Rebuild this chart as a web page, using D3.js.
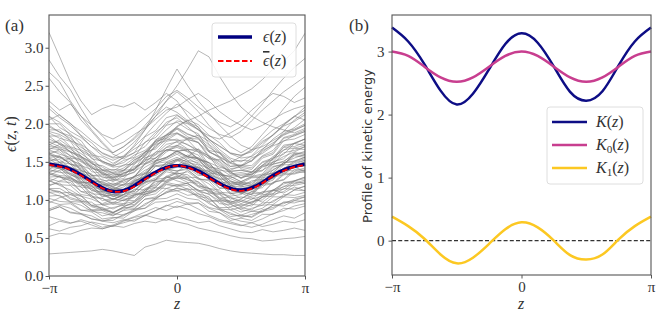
<!doctype html>
<html>
<head>
<meta charset="UTF-8">
<title>Energy profiles</title>
<script src="https://d3js.org/d3.v7.min.js"></script>
<style>
  body { margin: 0; background: #fff; }
  text { font-family: "Liberation Serif", serif; fill: #333; }
</style>
</head>
<body>
<div id="chart"></div>
<script>
// ---- data ----
// smooth profiles, sampled every pi/8 from -pi to pi
var epsMean = [1.47, 1.43, 1.33, 1.20, 1.11, 1.15, 1.28, 1.40, 1.45, 1.41, 1.30, 1.18, 1.13, 1.19, 1.32, 1.42, 1.47];
var epsBar  = [1.46, 1.42, 1.32, 1.19, 1.11, 1.14, 1.27, 1.39, 1.45, 1.40, 1.29, 1.17, 1.12, 1.18, 1.31, 1.41, 1.46];
var kTotal  = [3.38, 3.16, 2.80, 2.38, 2.16, 2.33, 2.72, 3.12, 3.29, 3.14, 2.76, 2.36, 2.22, 2.37, 2.78, 3.16, 3.38];
var kZero   = [3.00, 2.93, 2.76, 2.59, 2.52, 2.59, 2.76, 2.93, 3.00, 2.93, 2.76, 2.59, 2.52, 2.59, 2.76, 2.93, 3.00];
var kOne    = [0.38, 0.23, 0.03, -0.22, -0.36, -0.27, -0.05, 0.18, 0.29, 0.21, 0.00, -0.23, -0.30, -0.22, 0.02, 0.23, 0.38];

// individual realisations eps(z,t), sampled every pi/12
var lowRuns = [
  "0.29 0.30 0.31 0.32 0.33 0.35 0.33 0.30 0.27 0.38 0.42 0.47 0.45 0.44 0.43 0.40 0.36 0.33 0.31 0.30 0.29 0.28 0.28 0.27 0.27",
  "0.52 0.56 0.55 0.60 0.63 0.62 0.66 0.64 0.69 0.72 0.70 0.75 0.71 0.68 0.63 0.60 0.57 0.53 0.50 0.49 0.46 0.47 0.49 0.50 0.52",
  "0.62 0.59 0.64 0.66 0.71 0.68 0.65 0.72 0.77 0.80 0.76 0.73 0.78 0.74 0.70 0.72 0.66 0.62 0.58 0.57 0.61 0.58 0.60 0.63 0.60",
  "0.66 0.72 0.69 0.74 0.70 0.64 0.67 0.73 0.78 0.84 0.90 0.86 0.92 0.88 0.82 0.78 0.72 0.69 0.66 0.70 0.65 0.68 0.72 0.70 0.74",
  "0.78 0.74 0.70 0.72 0.67 0.62 0.66 0.70 0.74 0.79 0.86 0.93 0.90 0.95 0.88 0.80 0.74 0.71 0.67 0.64 0.68 0.74 0.79 0.76 0.83",
  "0.88 0.93 0.89 0.82 0.79 0.72 0.70 0.74 0.72 0.80 0.86 0.92 0.98 0.94 0.96 0.89 0.83 0.76 0.72 0.70 0.75 0.82 0.86 0.92 0.95",
  "0.86 0.91 0.84 0.82 0.75 0.72 0.76 0.79 0.87 0.93 1.03 1.09 1.16 1.11 1.05 0.95 0.89 0.81 0.79 0.78 0.87 0.90 0.97 0.99 1.04"
];
var midRuns = [
  "1.02 0.98 0.97 0.87 0.84 0.75 0.77 0.76 0.86 0.89 1.01 1.02 1.08 1.02 1.00 0.90 0.87 0.78 0.80 0.77 0.85 0.88 0.97 0.96 1.00",
  "1.10 1.11 1.01 0.98 0.86 0.86 0.80 0.86 0.88 1.01 1.04 1.15 1.12 1.15 1.05 1.02 0.90 0.90 0.84 0.89 0.93 0.94 1.04 1.03 1.06",
  "1.14 1.09 1.10 0.98 0.97 0.87 0.90 0.93 0.94 1.08 1.11 1.23 1.20 1.22 1.11 1.08 0.95 0.94 0.88 0.94 0.93 1.04 1.04 1.13 1.12",
  "1.20 1.22 1.09 1.06 0.92 0.90 0.84 0.90 0.89 1.01 1.02 1.10 1.12 1.06 1.08 0.98 0.99 0.91 0.94 0.92 1.04 1.08 1.23 1.25 1.30",
  "1.25 1.20 1.19 1.07 1.05 0.94 0.97 0.95 1.07 1.10 1.24 1.26 1.32 1.26 1.24 1.11 1.08 0.97 1.00 0.96 1.07 1.08 1.18 1.19 1.22",
  "1.30 1.31 1.20 1.17 1.03 1.02 0.96 1.04 1.06 1.22 1.27 1.40 1.38 1.40 1.28 1.25 1.10 1.09 1.02 1.08 1.09 1.23 1.26 1.37 1.36",
  "1.34 1.30 1.29 1.17 1.15 1.04 1.07 1.03 1.14 1.13 1.25 1.24 1.30 1.23 1.22 1.09 1.07 0.95 0.98 0.95 1.04 1.05 1.15 1.14 1.18",
  "1.38 1.38 1.27 1.22 1.08 1.07 1.00 1.07 1.11 1.27 1.33 1.46 1.44 1.45 1.34 1.30 1.16 1.15 1.08 1.14 1.16 1.30 1.33 1.44 1.44",
  "1.40 1.36 1.35 1.23 1.22 1.11 1.14 1.12 1.25 1.29 1.45 1.47 1.54 1.46 1.43 1.27 1.22 1.08 1.10 1.07 1.21 1.26 1.42 1.45 1.50",
  "1.42 1.42 1.29 1.22 1.05 1.02 0.94 1.00 0.99 1.11 1.12 1.21 1.18 1.22 1.12 1.13 1.02 1.04 0.98 1.05 1.08 1.23 1.27 1.40 1.38",
  "1.45 1.41 1.38 1.24 1.22 1.10 1.12 1.10 1.25 1.31 1.49 1.53 1.60 1.52 1.49 1.33 1.28 1.14 1.16 1.13 1.25 1.28 1.42 1.43 1.48",
  "1.48 1.49 1.38 1.35 1.21 1.20 1.14 1.20 1.19 1.31 1.32 1.41 1.38 1.42 1.32 1.33 1.22 1.24 1.18 1.25 1.27 1.43 1.47 1.60 1.58",
  "1.50 1.44 1.41 1.24 1.19 1.05 1.07 1.07 1.22 1.31 1.51 1.56 1.64 1.57 1.54 1.39 1.35 1.22 1.24 1.21 1.33 1.35 1.49 1.50 1.54",
  "1.52 1.53 1.42 1.39 1.25 1.24 1.18 1.26 1.30 1.48 1.55 1.69 1.71 1.64 1.59 1.40 1.32 1.17 1.18 1.16 1.26 1.29 1.41 1.42 1.46",
  "1.55 1.50 1.47 1.32 1.27 1.14 1.16 1.14 1.26 1.30 1.44 1.46 1.52 1.45 1.42 1.26 1.21 1.08 1.11 1.07 1.19 1.21 1.33 1.34 1.38",
  "1.58 1.58 1.47 1.43 1.28 1.27 1.20 1.27 1.30 1.47 1.52 1.66 1.64 1.66 1.53 1.49 1.33 1.31 1.24 1.30 1.32 1.47 1.50 1.62 1.60",
  "1.60 1.55 1.50 1.33 1.27 1.12 1.14 1.12 1.23 1.26 1.38 1.40 1.46 1.41 1.43 1.34 1.36 1.29 1.32 1.30 1.44 1.47 1.62 1.65 1.70",
  "1.63 1.63 1.52 1.47 1.32 1.31 1.24 1.32 1.36 1.55 1.62 1.77 1.80 1.72 1.66 1.46 1.38 1.21 1.23 1.20 1.31 1.36 1.49 1.51 1.56",
  "1.66 1.60 1.56 1.39 1.33 1.18 1.20 1.19 1.31 1.36 1.52 1.55 1.62 1.56 1.55 1.43 1.41 1.32 1.34 1.33 1.46 1.53 1.70 1.74 1.80",
  "1.70 1.69 1.58 1.53 1.37 1.35 1.28 1.36 1.39 1.55 1.60 1.73 1.76 1.67 1.63 1.43 1.35 1.19 1.21 1.18 1.29 1.32 1.46 1.47 1.52",
  "1.73 1.67 1.63 1.45 1.40 1.25 1.26 1.28 1.42 1.51 1.73 1.78 1.87 1.79 1.76 1.58 1.51 1.37 1.39 1.36 1.49 1.53 1.69 1.70 1.76",
  "1.76 1.76 1.63 1.58 1.41 1.39 1.32 1.39 1.40 1.53 1.55 1.66 1.64 1.66 1.53 1.49 1.33 1.31 1.24 1.31 1.34 1.50 1.54 1.68 1.66",
  "1.80 1.74 1.69 1.51 1.44 1.29 1.30 1.31 1.47 1.57 1.79 1.85 1.94 1.86 1.82 1.63 1.56 1.41 1.43 1.40 1.55 1.60 1.78 1.80 1.86",
  "1.84 1.84 1.70 1.65 1.47 1.45 1.38 1.46 1.47 1.63 1.67 1.80 1.78 1.79 1.64 1.58 1.39 1.37 1.28 1.35 1.38 1.55 1.60 1.74 1.72",
  "1.88 1.81 1.77 1.57 1.50 1.33 1.34 1.33 1.44 1.48 1.63 1.65 1.72 1.66 1.66 1.54 1.53 1.44 1.46 1.45 1.58 1.65 1.82 1.86 1.92",
  "1.92 1.92 1.78 1.72 1.54 1.51 1.44 1.52 1.56 1.76 1.82 1.98 2.02 1.93 1.87 1.64 1.55 1.38 1.39 1.36 1.50 1.55 1.72 1.74 1.80",
  "1.96 1.89 1.84 1.64 1.56 1.39 1.40 1.39 1.53 1.59 1.77 1.81 1.88 1.81 1.80 1.65 1.62 1.50 1.52 1.51 1.65 1.72 1.90 1.93 2.00",
  "2.00 2.00 1.85 1.78 1.59 1.56 1.48 1.56 1.62 1.83 1.91 2.08 2.12 2.02 1.96 1.73 1.62 1.44 1.45 1.42 1.57 1.62 1.81 1.84 1.90",
  "1.35 1.30 1.26 1.11 1.06 0.93 0.95 0.93 1.06 1.10 1.27 1.29 1.36 1.30 1.29 1.15 1.13 1.01 1.04 1.01 1.11 1.12 1.23 1.22 1.26",
  "1.15 1.15 1.07 1.05 0.93 0.94 0.88 0.95 0.98 1.13 1.17 1.30 1.28 1.29 1.18 1.15 1.00 0.99 0.92 0.98 1.00 1.12 1.14 1.24 1.22",
  "1.28 1.24 1.23 1.11 1.10 0.99 1.02 0.99 1.08 1.07 1.16 1.15 1.20 1.14 1.13 1.00 0.98 0.87 0.90 0.87 0.96 0.97 1.07 1.06 1.10",
  "1.44 1.44 1.33 1.28 1.12 1.11 1.04 1.10 1.11 1.24 1.26 1.37 1.34 1.37 1.27 1.27 1.15 1.16 1.10 1.18 1.22 1.40 1.46 1.61 1.62",
  "1.62 1.56 1.54 1.38 1.34 1.20 1.22 1.20 1.31 1.34 1.48 1.50 1.56 1.49 1.46 1.29 1.24 1.10 1.13 1.09 1.21 1.22 1.35 1.35 1.40",
  "1.05 1.06 0.98 0.97 0.87 0.88 0.83 0.89 0.92 1.05 1.08 1.20 1.18 1.19 1.08 1.04 0.88 0.87 0.80 0.85 0.84 0.93 0.92 0.99 0.98",
  "1.36 1.32 1.31 1.19 1.18 1.07 1.10 1.10 1.24 1.32 1.51 1.56 1.64 1.57 1.54 1.37 1.32 1.19 1.21 1.18 1.27 1.28 1.39 1.38 1.42",
  "1.68 1.66 1.53 1.45 1.26 1.22 1.14 1.21 1.22 1.35 1.37 1.49 1.46 1.48 1.39 1.38 1.27 1.28 1.22 1.29 1.30 1.44 1.47 1.58 1.56",
  "0.98 0.94 0.95 0.86 0.87 0.79 0.82 0.80 0.88 0.89 0.97 0.98 1.02 0.96 0.96 0.85 0.83 0.73 0.76 0.73 0.81 0.81 0.89 0.88 0.92",
  "1.56 1.57 1.47 1.45 1.32 1.33 1.26 1.35 1.40 1.60 1.69 1.85 1.88 1.80 1.75 1.56 1.50 1.34 1.36 1.33 1.45 1.50 1.66 1.68 1.72"
];
var driftRuns = [
  "1.18 1.25 1.29 1.23 1.15 1.09 1.01 0.99 1.05 1.15 1.19 1.31 1.37 1.47 1.39 1.33 1.21 1.17 1.09 1.03 0.97 1.07 1.11 1.21 1.24",
  "1.62 1.49 1.43 1.35 1.31 1.21 1.17 1.11 1.19 1.25 1.35 1.43 1.51 1.57 1.67 1.57 1.47 1.35 1.29 1.33 1.43 1.49 1.57 1.63 1.70",
  "1.40 1.49 1.55 1.53 1.43 1.35 1.27 1.23 1.29 1.39 1.45 1.41 1.33 1.29 1.19 1.15 1.09 1.05 1.07 1.17 1.23 1.31 1.35 1.43 1.38",
  "0.96 1.03 1.07 1.01 0.93 0.89 0.83 0.91 0.97 1.07 1.13 1.23 1.29 1.39 1.29 1.21 1.09 1.03 0.95 1.01 1.05 1.13 1.09 1.17 1.12",
  "1.72 1.79 1.69 1.61 1.51 1.43 1.35 1.31 1.37 1.47 1.55 1.65 1.69 1.63 1.55 1.49 1.43 1.39 1.45 1.55 1.61 1.71 1.77 1.85 1.90",
  "1.26 1.19 1.13 1.05 1.01 0.95 1.01 1.07 1.17 1.23 1.35 1.43 1.53 1.59 1.55 1.45 1.37 1.25 1.19 1.11 1.09 1.13 1.21 1.25 1.30",
  "1.50 1.57 1.47 1.41 1.29 1.23 1.17 1.25 1.31 1.43 1.51 1.63 1.71 1.81 1.85 1.77 1.63 1.53 1.41 1.37 1.39 1.47 1.51 1.59 1.64",
  "2.10 1.95 1.87 1.73 1.63 1.51 1.45 1.49 1.59 1.65 1.77 1.85 1.95 1.87 1.81 1.69 1.61 1.49 1.45 1.51 1.63 1.73 1.87 1.95 2.06",
  "1.32 1.39 1.43 1.37 1.25 1.15 1.05 1.01 1.03 1.13 1.21 1.31 1.25 1.21 1.13 1.07 0.99 0.97 1.01 1.11 1.19 1.31 1.37 1.45 1.50",
  "1.84 1.73 1.67 1.57 1.49 1.39 1.35 1.39 1.49 1.57 1.71 1.81 1.97 2.05 1.99 1.85 1.75 1.61 1.55 1.57 1.67 1.75 1.85 1.91 1.98",
  "1.10 1.05 0.97 0.93 0.85 0.83 0.79 0.87 0.93 1.05 1.13 1.25 1.31 1.27 1.17 1.11 1.01 0.95 0.87 0.85 0.89 0.99 1.05 1.13 1.18",
  "1.46 1.41 1.33 1.27 1.17 1.13 1.07 1.05 1.09 1.19 1.27 1.39 1.45 1.55 1.47 1.41 1.29 1.21 1.11 1.17 1.23 1.35 1.41 1.49 1.52",
  "1.66 1.73 1.63 1.55 1.45 1.37 1.29 1.35 1.41 1.51 1.59 1.69 1.77 1.73 1.63 1.55 1.45 1.37 1.29 1.37 1.45 1.57 1.65 1.75 1.80",
  "0.86 0.91 0.83 0.81 0.75 0.73 0.73 0.81 0.85 0.95 1.01 1.11 1.15 1.13 1.03 0.97 0.87 0.83 0.77 0.81 0.85 0.93 0.95 1.01 1.04",
  "1.24 1.31 1.25 1.21 1.13 1.07 1.01 1.07 1.13 1.23 1.29 1.39 1.43 1.51 1.43 1.37 1.25 1.19 1.13 1.19 1.25 1.35 1.41 1.51 1.56",
  "1.98 1.89 1.81 1.69 1.61 1.49 1.43 1.45 1.55 1.63 1.75 1.83 1.93 1.83 1.75 1.63 1.57 1.49 1.57 1.65 1.77 1.85 1.97 2.03 2.12",
  "1.54 1.45 1.39 1.29 1.23 1.15 1.13 1.17 1.27 1.35 1.47 1.55 1.65 1.57 1.51 1.41 1.35 1.25 1.21 1.23 1.33 1.39 1.49 1.55 1.60",
  "1.36 1.43 1.35 1.29 1.19 1.13 1.05 1.11 1.17 1.29 1.37 1.49 1.53 1.51 1.41 1.35 1.23 1.17 1.09 1.15 1.21 1.31 1.37 1.45 1.48",
  "2.24 2.11 2.01 1.85 1.75 1.61 1.55 1.57 1.67 1.75 1.89 1.99 2.11 2.01 1.93 1.79 1.71 1.61 1.59 1.63 1.75 1.85 1.99 2.09 2.22",
  "1.14 1.11 1.03 0.99 0.91 0.87 0.83 0.91 0.97 1.09 1.17 1.29 1.35 1.33 1.23 1.15 1.03 0.97 0.91 0.97 1.03 1.13 1.17 1.25 1.28"
];
var highRuns = [
  "3.20 2.88 2.55 2.30 2.12 2.20 2.25 2.22 2.28 2.18 2.28 2.40 2.30 2.10 1.95 1.80 1.70 1.62 1.58 1.66 1.80 1.92 2.00 2.10 2.05",
  "2.84 2.62 2.45 2.20 1.98 1.84 1.70 1.76 1.86 1.95 2.10 2.22 2.15 2.04 1.92 1.80 1.66 1.55 1.50 1.58 1.72 1.86 1.98 2.10 2.18",
  "2.68 2.55 2.30 2.10 1.92 1.76 1.62 1.70 1.82 1.98 2.14 2.30 2.42 2.30 2.16 1.98 1.84 1.70 1.62 1.70 1.86 2.02 2.20 2.36 2.48",
  "2.60 2.42 2.28 2.05 1.90 1.74 1.60 1.54 1.62 1.70 1.86 2.02 2.08 1.96 1.84 1.72 1.56 1.48 1.44 1.52 1.66 1.80 1.90 2.05 2.15",
  "2.10 2.02 1.90 1.82 1.70 1.62 1.56 1.64 1.76 1.92 2.10 2.30 2.50 2.72 2.96 2.88 2.62 2.40 2.22 2.10 2.02 1.96 1.92 1.88 1.94",
  "1.90 1.86 1.78 1.66 1.58 1.50 1.46 1.56 1.72 1.92 2.18 2.46 2.72 2.50 2.30 2.14 1.98 1.84 1.72 1.66 1.70 1.78 1.86 1.92 1.98",
  "1.76 1.70 1.64 1.56 1.48 1.40 1.36 1.42 1.52 1.62 1.74 1.86 1.96 2.04 2.10 2.18 2.24 2.30 2.38 2.46 2.58 2.72 2.82 2.96 3.19",
  "1.60 1.66 1.58 1.50 1.42 1.36 1.30 1.38 1.50 1.62 1.78 1.92 2.04 2.00 1.92 1.84 1.80 1.88 1.96 2.10 2.26 2.44 2.60 2.74 2.86",
  "2.20 2.08 1.98 1.84 1.70 1.58 1.52 1.58 1.70 1.84 2.00 2.14 2.26 2.16 2.04 1.94 1.86 1.82 1.90 2.04 2.18 2.30 2.42 2.52 2.62",
  "2.30 2.18 2.26 2.10 1.98 1.86 1.80 1.88 1.96 2.08 2.20 2.36 2.44 2.34 2.22 2.12 2.02 1.96 2.04 2.18 2.30 2.40 2.36 2.28 2.34",
  "2.05 2.12 2.00 1.90 1.78 1.68 1.62 1.70 1.80 1.94 2.06 2.18 2.22 2.32 2.40 2.30 2.16 2.06 1.98 1.92 1.98 2.06 2.14 2.20 2.24"
];

var epsTicks = [0, 0.5, 1.0, 1.5, 2.0, 2.5, 3.0];
var kTicks = [0, 1, 2, 3];
var zTicks = [-Math.PI, 0, Math.PI];
var zTickLabels = ["\u2212\u03c0", "0", "\u03c0"];

// z grids for the two sampling rates
var zCoarse = d3.range(-8, 9).map(function(k){ return k * Math.PI / 8; });
var zFine = d3.range(-12, 13).map(function(k){ return k * Math.PI / 12; });

var runs = lowRuns.concat(midRuns, driftRuns, highRuns).map(function(s){
  return s.split(" ").map(Number);
});

var svg = d3.select("#chart").append("svg")
  .attr("width", 665).attr("height", 321);

// shared helpers
function zAxis(g, x, y0) {
  g.append("g")
    .attr("transform", "translate(0," + y0 + ")")
    .call(d3.axisBottom(x).tickValues(zTicks).tickSize(3.5).tickSizeOuter(0).tickPadding(3)
      .tickFormat(function(d, i){ return zTickLabels[i]; }))
    .call(function(a){ a.select(".domain").remove(); })
    .call(function(a){ a.selectAll("line").attr("stroke", "#555"); })
    .selectAll("text").attr("font-size", 15).attr("fill", "#444")
      .style("font-family", "'Liberation Serif', serif");
}

function frame(g, x, y) {
  g.append("rect")
    .attr("x", x.range()[0]).attr("y", y.range()[1])
    .attr("width", x.range()[1] - x.range()[0])
    .attr("height", y.range()[0] - y.range()[1])
    .attr("fill", "none").attr("stroke", "#555").attr("stroke-width", 1.1);
}

function mathLabel(sel, parts) {
  parts.forEach(function(p){
    var t = sel.append("tspan").text(p[0]);
    if (p[1] == "i") t.attr("font-style", "italic");
    if (p[1] == "sub") t.attr("font-size", "0.7em").attr("dy", 3);
    if (p[1] == "after") t.attr("dy", -3);
  });
}

// ---------------- panel (a) ----------------
var xA = d3.scaleLinear().domain([-Math.PI, Math.PI]).range([49, 305]);
var yA = d3.scaleLinear().domain([0, 3.43]).range([276, 15]);
var gA = svg.append("g");

svg.append("clipPath").attr("id", "clipA").append("rect")
  .attr("x", 49).attr("y", 15).attr("width", 256).attr("height", 261);

var runLine = d3.line()
  .x(function(d, i){ return xA(zFine[i]); })
  .y(function(d){ return yA(d); });

gA.append("g").attr("clip-path", "url(#clipA)")
  .selectAll("path").data(runs).join("path")
  .attr("d", runLine)
  .attr("fill", "none")
  .attr("stroke", "#7c7c7c")
  .attr("stroke-opacity", 0.8)
  .attr("stroke-width", 0.7);

var smoothA = d3.line()
  .x(function(d, i){ return xA(zCoarse[i]); })
  .y(function(d){ return yA(d); })
  .curve(d3.curveNatural);

gA.append("path").attr("d", smoothA(epsMean))
  .attr("fill", "none").attr("stroke", "#000080").attr("stroke-width", 3.4);
gA.append("path").attr("d", smoothA(epsBar))
  .attr("fill", "none").attr("stroke", "#ff0000").attr("stroke-width", 1.8)
  .attr("stroke-dasharray", "5.5,2.5");

gA.append("g").attr("transform", "translate(49,0)")
  .call(d3.axisLeft(yA).tickValues(epsTicks).tickFormat(d3.format(".1f"))
    .tickSize(3.5).tickSizeOuter(0).tickPadding(2))
  .call(function(a){ a.select(".domain").remove(); })
  .call(function(a){ a.selectAll("line").attr("stroke", "#555"); })
  .selectAll("text").attr("font-size", 15).attr("fill", "#444")
    .style("font-family", "'Liberation Serif', serif");

zAxis(gA, xA, 276);
frame(gA, xA, yA);

gA.append("text").attr("x", 177).attr("y", 309).attr("text-anchor", "middle")
  .attr("font-size", 16).attr("font-style", "italic").text("z");
mathLabel(gA.append("text").attr("transform", "translate(16,134) rotate(-90)")
  .attr("text-anchor", "middle").attr("font-size", 16),
  [["\u03f5", "i"], ["(", ""], ["z", "i"], [", ", ""], ["t", "i"], [")", ""]]);
gA.append("text").attr("x", 5).attr("y", 31).attr("font-size", 17).text("(a)");

// legend (a)
var legA = gA.append("g");
legA.append("rect").attr("x", 212).attr("y", 23).attr("width", 84).attr("height", 54)
  .attr("rx", 3).attr("fill", "#fff").attr("fill-opacity", 0.85)
  .attr("stroke", "#d6d6d6").attr("stroke-width", 0.8);
legA.append("line").attr("x1", 218).attr("x2", 252).attr("y1", 37).attr("y2", 37)
  .attr("stroke", "#000080").attr("stroke-width", 3.4);
legA.append("line").attr("x1", 218).attr("x2", 252).attr("y1", 61).attr("y2", 61)
  .attr("stroke", "#ff0000").attr("stroke-width", 1.8).attr("stroke-dasharray", "5.5,2.5");
mathLabel(legA.append("text").attr("x", 263).attr("y", 42).attr("font-size", 16),
  [["\u03f5", "i"], ["(", ""], ["z", "i"], [")", ""]]);
var barLabel = legA.append("text").attr("x", 263).attr("y", 66).attr("font-size", 16);
barLabel.append("tspan").attr("font-style", "italic").attr("text-decoration", "overline").text("\u03f5");
mathLabel(barLabel, [["(", ""], ["z", "i"], [")", ""]]);

// ---------------- panel (b) ----------------
var xB = d3.scaleLinear().domain([-Math.PI, Math.PI]).range([392, 651]);
var yB = d3.scaleLinear().domain([-0.545, 3.58]).range([275, 15]);
var gB = svg.append("g");

gB.append("line").attr("x1", 392).attr("x2", 651)
  .attr("y1", yB(0)).attr("y2", yB(0))
  .attr("stroke", "#333").attr("stroke-width", 1.2).attr("stroke-dasharray", "4,2.2");

var smoothB = d3.line()
  .x(function(d, i){ return xB(zCoarse[i]); })
  .y(function(d){ return yB(d); })
  .curve(d3.curveNatural);

var kSeries = [
  { vals: kTotal, color: "#0d0d85", label: [["K", "i"], ["(", ""], ["z", "i"], [")", ""]] },
  { vals: kZero, color: "#c83e8f", label: [["K", "i"], ["0", "sub"], ["(", "after"], ["z", "i"], [")", ""]] },
  { vals: kOne, color: "#fcc822", label: [["K", "i"], ["1", "sub"], ["(", "after"], ["z", "i"], [")", ""]] }
];

gB.selectAll("path.k").data(kSeries).join("path").attr("class", "k")
  .attr("d", function(d){ return smoothB(d.vals); })
  .attr("fill", "none").attr("stroke", function(d){ return d.color; })
  .attr("stroke-width", 2.5);

gB.append("g").attr("transform", "translate(392,0)")
  .call(d3.axisLeft(yB).tickValues(kTicks).tickFormat(d3.format("d"))
    .tickSize(3.5).tickSizeOuter(0).tickPadding(4))
  .call(function(a){ a.select(".domain").remove(); })
  .call(function(a){ a.selectAll("line").attr("stroke", "#555"); })
  .selectAll("text").attr("font-size", 15).attr("fill", "#444")
    .style("font-family", "'Liberation Serif', serif");

zAxis(gB, xB, 275);
frame(gB, xB, yB);

gB.append("text").attr("x", 521).attr("y", 309).attr("text-anchor", "middle")
  .attr("font-size", 16).attr("font-style", "italic").text("z");
gB.append("text").attr("transform", "translate(372,146) rotate(-90)")
  .attr("text-anchor", "middle").attr("font-size", 13)
  .style("font-family", "'DejaVu Sans', sans-serif").attr("fill", "#222")
  .text("Profile of kinetic energy");
gB.append("text").attr("x", 349).attr("y", 31).attr("font-size", 17).text("(b)");

// legend (b)
var legB = gB.append("g");
legB.append("rect").attr("x", 547).attr("y", 107).attr("width", 96).attr("height", 77)
  .attr("rx", 3).attr("fill", "#fff").attr("fill-opacity", 0.85)
  .attr("stroke", "#d6d6d6").attr("stroke-width", 0.8);
kSeries.forEach(function(s, i){
  var yy = 122 + i * 23;
  legB.append("line").attr("x1", 552).attr("x2", 587).attr("y1", yy).attr("y2", yy)
    .attr("stroke", s.color).attr("stroke-width", 2.5);
  mathLabel(legB.append("text").attr("x", 596).attr("y", yy + 5).attr("font-size", 16), s.label);
});
</script>
</body>
</html>
